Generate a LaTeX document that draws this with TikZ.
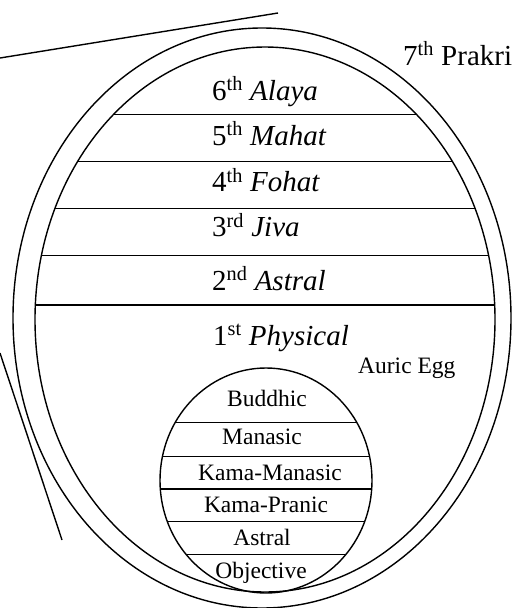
\documentclass[tikz,border=0pt]{standalone}
\usepackage{fontspec}
\setmainfont{Liberation Serif}

\begin{document}
\begin{tikzpicture}[
  x=1pt, y=-1pt,
  shell/.style={line width=1.4pt},
  plane/.style={font=\fontsize{29}{30}\selectfont, inner sep=0pt,
                anchor=base west},
  sub/.style={font=\fontsize{23.5}{25}\selectfont, inner sep=0pt,
              anchor=base},
]
\useasboundingbox (0,0) rectangle (512,608);

% outer shells
\draw[shell] (262,318) ellipse [x radius=249, y radius=290];
\draw[shell] (265,319.5) ellipse [x radius=230, y radius=272.5];

% seven planes
\begin{scope}
  \clip (265,319.5) ellipse [x radius=230, y radius=272.5];
  \foreach \y in {114.3,161.7,208.7,255.7,305}
    \draw[shell] (0,\y) -- (512,\y);
\end{scope}
\node[plane] (prakriti) at (403,65) {7\textsuperscript{th} Prakri};
\node[plane] (alaya)    at (212,100) {6\textsuperscript{th} \emph{Alaya}};
\node[plane] (mahat)    at (212,145) {5\textsuperscript{th} \emph{Mahat}};
\node[plane] (fohat)    at (212,191.7) {4\textsuperscript{th} \emph{Fohat}};
\node[plane] (jiva)     at (212,236.7) {3\textsuperscript{rd} \emph{Jiva}};
\node[plane] (astral)   at (212,290) {2\textsuperscript{nd} \emph{Astral}};
\node[plane] (physical) at (213,345) {1\textsuperscript{st} \emph{Physical}};
\node[sub, anchor=base west] (auric) at (358,373) {Auric Egg};

% auric egg
\draw[shell] (266,480.5) ellipse [x radius=106, y radius=112.5];
\begin{scope}
  \clip (266,480.5) ellipse [x radius=106, y radius=112.5];
  \foreach \y in {422.3,456.7,489,521.7,554.3}
    \draw[shell] (150,\y) -- (380,\y);
\end{scope}
\node[sub] (buddhic)   at (267,406) {Buddhic};
\node[sub] (manasic)   at (262,444) {Manasic};
\node[sub] (kamaman)   at (270,480) {Kama-Manasic};
\node[sub] (kamapran)  at (266,512.3) {Kama-Pranic};
\node[sub] (subastral) at (262,545.7) {Astral};
\node[sub] (objective) at (261,578.3) {Objective};

% tangents
\coordinate (ta) at (0,58);
\coordinate (tb) at (278,13);
\coordinate (la) at (0,353);
\coordinate (lb) at (62,540);
\draw[shell] (ta) -- (tb);
\draw[shell] (la) -- (lb);
\end{tikzpicture}
\end{document}
